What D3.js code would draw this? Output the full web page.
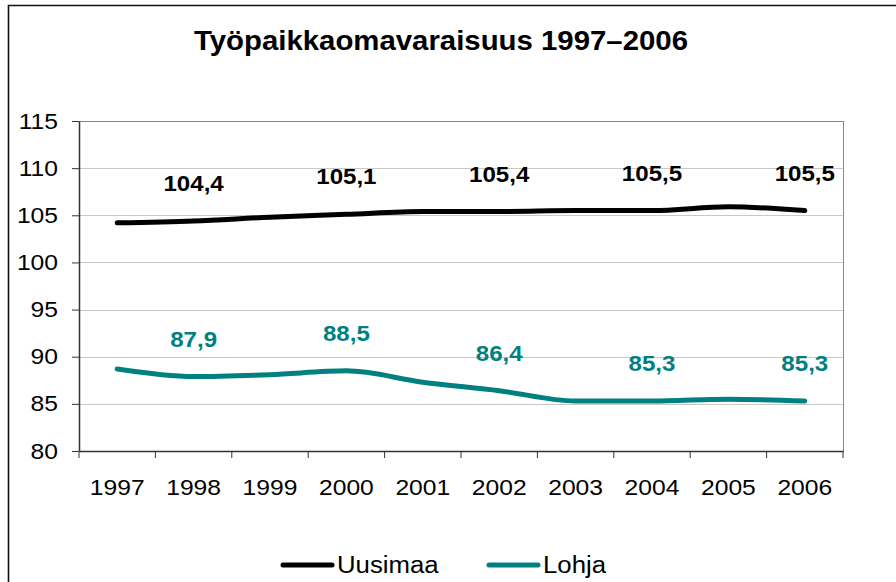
<!DOCTYPE html>
<html>
<head>
<meta charset="utf-8">
<script src="https://cdn.jsdelivr.net/npm/d3@7"></script>
<style>
  body { margin: 0; background: #fff; }
  svg { display: block; font-family: "Liberation Sans", Arial, sans-serif; }
</style>
</head>
<body>
<svg id="chart" width="896" height="582"></svg>
<script>
// data
const years = ["1997", "1998", "1999", "2000", "2001", "2002", "2003", "2004", "2005", "2006"];
const uusimaa = [104.2, 104.4, 104.8, 105.1, 105.4, 105.4, 105.5, 105.5, 105.9, 105.5];
const lohja = [88.7, 87.9, 88.1, 88.5, 87.3, 86.4, 85.3, 85.3, 85.5, 85.3];
// only every other year gets a value label
const labelYears = ["1998", "2000", "2002", "2004", "2006"];
const uusimaaLabels = [104.4, 105.1, 105.4, 105.5, 105.5];
const lohjaLabels = [87.9, 88.5, 86.4, 85.3, 85.3];
const yTicks = [80, 85, 90, 95, 100, 105, 110, 115];

const series = [
  { name: "Uusimaa", values: uusimaa, labels: uusimaaLabels, color: "#000000" },
  { name: "Lohja", values: lohja, labels: lohjaLabels, color: "#008080" },
];

const svg = d3.select("#chart");
const plot = { left: 79, right: 843, top: 121, bottom: 451 };
const stretch = 1.12; // the reference text is a bit wide

const x = d3.scaleBand().domain(years).range([plot.left, plot.right]);
const y = d3.scaleLinear().domain([80, 115]).range([plot.bottom, plot.top]);
const fmt = (v) => d3.format(".1f")(v).replace(".", ",");

function widen(sel) {
  sel.each(function () {
    const w = this.getComputedTextLength();
    d3.select(this)
      .attr("textLength", w * stretch)
      .attr("lengthAdjust", "spacingAndGlyphs");
  });
}

// outer frame
svg.append("path")
  .attr("d", "M8.5,582 V5.5 H896")
  .attr("fill", "none")
  .attr("stroke", "#111")
  .attr("stroke-width", 1.6);

svg.append("text")
  .attr("x", 441)
  .attr("y", 50)
  .attr("text-anchor", "middle")
  .attr("font-size", 28)
  .attr("font-weight", "bold")
  .attr("textLength", 494)
  .attr("lengthAdjust", "spacingAndGlyphs")
  .text("Työpaikkaomavaraisuus 1997–2006");

// gridlines
svg.append("g")
  .selectAll("line")
  .data(yTicks.slice(1))
  .join("line")
  .attr("x1", plot.left)
  .attr("x2", plot.right)
  .attr("y1", (d) => Math.round(y(d)) + 0.5)
  .attr("y2", (d) => Math.round(y(d)) + 0.5)
  .attr("stroke", (d) => (d === 115 ? "#888" : "#c8c8c8"))
  .attr("stroke-width", 1);

// right border of plot area
svg.append("line")
  .attr("x1", plot.right + 0.5).attr("x2", plot.right + 0.5)
  .attr("y1", plot.top).attr("y2", plot.bottom)
  .attr("stroke", "#888");

const yAxis = svg.append("g")
  .attr("transform", `translate(${plot.left},0)`)
  .call(d3.axisLeft(y).tickValues(yTicks).tickSize(7).tickPadding(14).tickSizeOuter(0));
yAxis.select(".domain").attr("stroke", "#333").attr("stroke-width", 1.5);
yAxis.selectAll(".tick line").attr("stroke", "#333");
yAxis.selectAll(".tick text")
  .attr("font-size", 22)
  .attr("font-family", "Liberation Sans, Arial, sans-serif")
  .attr("fill", "#000")
  .call(widen);

// x axis: ticks sit on the category boundaries
const xAxis = svg.append("g")
  .attr("transform", `translate(0,${plot.bottom})`)
  .call(d3.axisBottom(x).tickSize(0).tickPadding(28));
xAxis.select(".domain").attr("stroke", "#333").attr("stroke-width", 1.5);
xAxis.selectAll(".tick text")
  .attr("font-size", 22)
  .attr("font-family", "Liberation Sans, Arial, sans-serif")
  .attr("fill", "#000")
  .call(widen);
xAxis.selectAll(".boundary")
  .data(d3.range(years.length + 1))
  .join("line")
  .attr("class", "boundary")
  .attr("x1", (i) => plot.left + i * x.bandwidth())
  .attr("x2", (i) => plot.left + i * x.bandwidth())
  .attr("y1", 0)
  .attr("y2", 7)
  .attr("stroke", "#333");

const cx = (yr) => x(yr) + x.bandwidth() / 2;
const line = d3.line()
  .x((d, i) => cx(years[i]))
  .y((d) => y(d))
  .curve(d3.curveMonotoneX);

series.forEach((s) => {
  svg.append("path")
    .datum(s.values)
    .attr("d", line)
    .attr("fill", "none")
    .attr("stroke", s.color)
    .attr("stroke-width", 5)
    .attr("stroke-linecap", "round")
    .attr("stroke-linejoin", "round");

  svg.append("g")
    .selectAll("text")
    .data(labelYears)
    .join("text")
    .attr("x", (yr) => cx(yr))
    .attr("y", (yr) => y(s.values[years.indexOf(yr)]) - 30)
    .attr("text-anchor", "middle")
    .attr("font-size", 21.5)
    .attr("font-weight", "bold")
    .attr("fill", s.color)
    .text((yr, i) => fmt(s.labels[i]))
    .call(widen);
});

// legend
const legend = svg.append("g").attr("transform", "translate(0,565)");
const legendX = [283, 489];
series.forEach((s, i) => {
  legend.append("line")
    .attr("x1", legendX[i]).attr("x2", legendX[i] + 49)
    .attr("y1", 0).attr("y2", 0)
    .attr("stroke", s.color)
    .attr("stroke-width", 5)
    .attr("stroke-linecap", "round");
  legend.append("text")
    .attr("x", legendX[i] + 54)
    .attr("y", 8)
    .attr("font-size", 23)
    .attr("fill", "#000")
    .text(s.name)
    .call(widen);
});
</script>
</body>
</html>
